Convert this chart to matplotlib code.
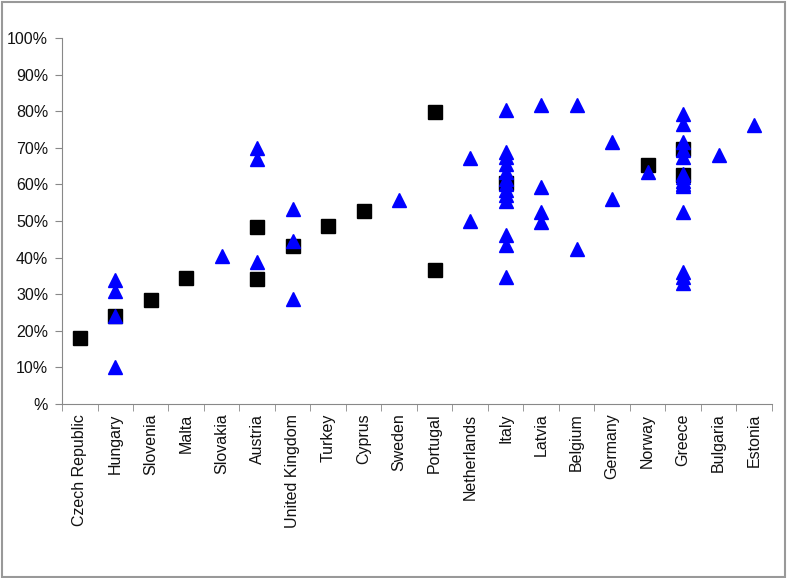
import matplotlib
matplotlib.use("Agg")
import matplotlib.patches as patches
from matplotlib import pyplot as plt
from matplotlib.ticker import FixedLocator

plt.rcParams["font.family"] = ["Liberation Sans", "DejaVu Sans"]
plt.rcParams["font.size"] = 11.5

countries = ["Czech Republic", "Hungary", "Slovenia", "Malta", "Slovakia",
             "Austria", "United Kingdom", "Turkey", "Cyprus", "Sweden",
             "Portugal", "Netherlands", "Italy", "Latvia", "Belgium",
             "Germany", "Norway", "Greece", "Bulgaria", "Estonia"]

# black squares (country, value %)
square_country = ["Czech Republic", "Hungary", "Slovenia", "Malta",
                  "Austria", "Austria", "United Kingdom", "Turkey", "Cyprus",
                  "Portugal", "Portugal", "Italy", "Norway", "Greece", "Greece"]
square_value = [18, 24, 28.5, 34.5,
                48.5, 34.3, 43.2, 48.6, 52.7,
                79.8, 36.6, 60.5, 65.3, 69.8, 62.5]

# blue triangles (country, value %)
tri_country = (["Hungary"] * 4 + ["Slovakia"] + ["Austria"] * 3
               + ["United Kingdom"] * 3 + ["Sweden"] + ["Netherlands"] * 2
               + ["Italy"] * 13 + ["Latvia"] * 4 + ["Belgium"] * 2
               + ["Germany"] * 2 + ["Norway"] + ["Greece"] * 14
               + ["Bulgaria"] + ["Estonia"])
tri_value = ([34, 31, 24, 10] + [40.5] + [70, 67, 38.8]
             + [53.3, 44.5, 28.7] + [55.7] + [67.3, 50]
             + [80.3, 69, 67.5, 65.5, 63.5, 61.5, 60, 58.5, 57, 55.5, 46.3, 43.6, 34.6]
             + [81.6, 59.2, 52.5, 49.8] + [81.6, 42.3]
             + [71.6, 56.1] + [63.4]
             + [79.2, 76.5, 71.5, 69.5, 67.5, 63, 62, 61, 60, 59.5, 52.6, 36.2, 34.6, 33]
             + [68] + [76.2])

fig = plt.figure(figsize=(7.87, 5.78), dpi=100)
ax = fig.add_axes([0.0788, 0.301, 0.902, 0.633])

xs = [countries.index(c) for c in square_country]
ax.plot(xs, square_value, linestyle="none", marker="s", markersize=9.5,
        color="black", zorder=3)
xt = [countries.index(c) for c in tri_country]
ax.plot(xt, tri_value, linestyle="none", marker="^", markersize=10.5,
        color="#0000ff", markeredgecolor="#0000ff", zorder=4)

ax.set_xlim(-0.5, len(countries) - 0.5)
ax.set_ylim(0, 100)

axis_grey = "#888888"
for side in ["top", "right"]:
    ax.spines[side].set_visible(False)
for side in ["left", "bottom"]:
    ax.spines[side].set_color(axis_grey)

ax.set_yticks(range(0, 101, 10))
ax.set_yticklabels(["%"] + ["%d%%" % v for v in range(10, 101, 10)])
ax.tick_params(axis="y", direction="out", length=5, color=axis_grey,
               labelcolor="#111111", pad=5)

ax.set_xticks(range(len(countries)))
ax.set_xticklabels(countries, rotation=90, color="#111111")
ax.tick_params(axis="x", which="major", length=0, pad=7)
ax.xaxis.set_minor_locator(FixedLocator([i - 0.5 for i in range(len(countries) + 1)]))
ax.tick_params(axis="x", which="minor", direction="out", length=5, color=axis_grey)

# grey frame around the whole picture
fig.patches.append(patches.Rectangle((0.002, 0.002), 0.995, 0.995,
                                     transform=fig.transFigure, fill=False,
                                     edgecolor="#999999", linewidth=1.5))

fig.savefig("out.png", dpi=100)
plt.close()
